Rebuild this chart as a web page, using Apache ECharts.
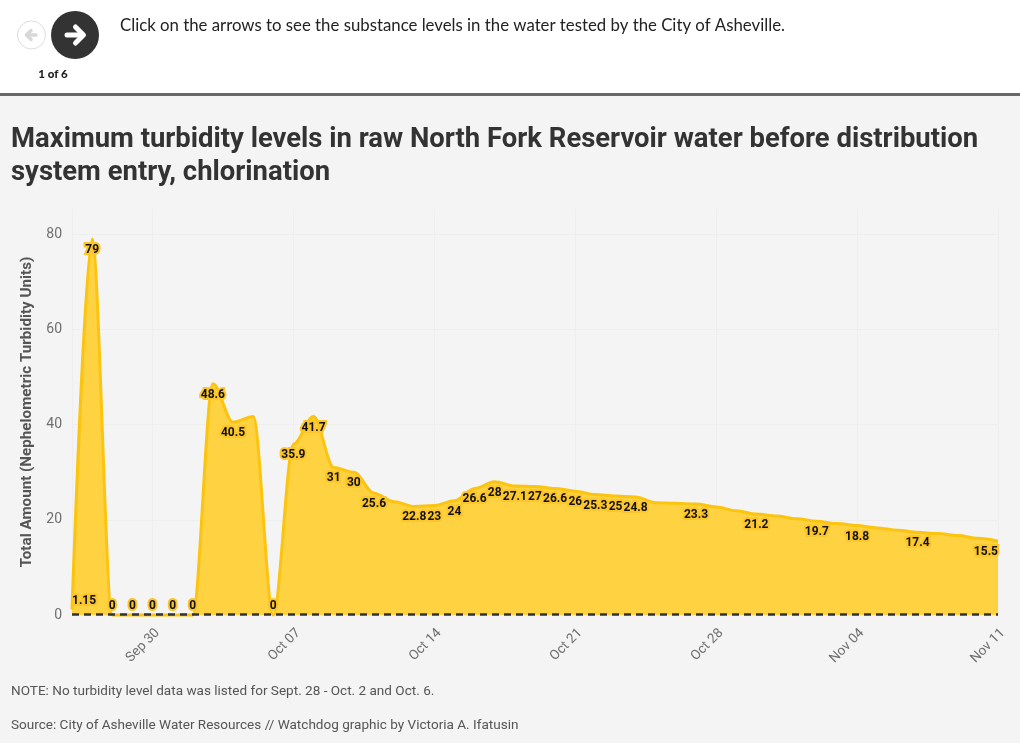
<!DOCTYPE html>
<html>
<head>
<meta charset="utf-8">
<style>html,body{margin:0;padding:0;background:#f4f4f4}#c{width:1020px;height:743px}</style>
<script src="https://cdn.jsdelivr.net/npm/echarts@6/dist/echarts.min.js"></script>
</head>
<body>
<div id="c"></div>
<script>
const dates = ['2024-09-26','2024-09-27','2024-09-28','2024-09-29','2024-09-30','2024-10-01','2024-10-02','2024-10-03','2024-10-04','2024-10-05','2024-10-06','2024-10-07','2024-10-08','2024-10-09','2024-10-10','2024-10-11','2024-10-12','2024-10-13','2024-10-14','2024-10-15','2024-10-16','2024-10-17','2024-10-18','2024-10-19','2024-10-20','2024-10-21','2024-10-22','2024-10-23','2024-10-24','2024-10-25','2024-10-26','2024-10-27','2024-10-28','2024-10-29','2024-10-30','2024-10-31','2024-11-01','2024-11-02','2024-11-03','2024-11-04','2024-11-05','2024-11-06','2024-11-07','2024-11-08','2024-11-09','2024-11-10','2024-11-11'];
const turbidity = [1.15,79,0,0,0,0,0,48.6,40.5,41.7,0,35.9,41.7,31,30,25.6,23.8,22.8,23,24,26.6,28,27.1,27,26.6,26,25.3,25,24.8,23.6,23.5,23.3,22.7,21.9,21.2,20.8,20.2,19.7,19.2,18.8,18.3,17.8,17.4,17.1,16.7,16.1,15.5];
const unlabeledDates = ['2024-10-05','2024-10-12','2024-10-25','2024-10-26','2024-10-28','2024-10-29','2024-10-31','2024-11-01','2024-11-03','2024-11-05','2024-11-06','2024-11-08','2024-11-09','2024-11-10'];
const xTickDates = ['2024-09-26','2024-09-30','2024-10-07','2024-10-14','2024-10-21','2024-10-28','2024-11-04','2024-11-11'];
const xTickLabels = {'2024-09-30':'Sep 30','2024-10-07':'Oct 07','2024-10-14':'Oct 14','2024-10-21':'Oct 21','2024-10-28':'Oct 28','2024-11-04':'Nov 04','2024-11-11':'Nov 11'};
const yTicks = [0,20,40,60,80];
const headline = ['Maximum turbidity levels in raw North Fork Reservoir water before distribution','system entry, chlorination'];
const prompt = 'Click on the arrows to see the substance levels in the water tested by the City of Asheville.';
const pager = '1 of 6';
const yAxisTitle = 'Total Amount (Nephelometric Turbidity Units)';
const note = 'NOTE: No turbidity level data was listed for Sept. 28 - Oct. 2 and Oct. 6.';
const source = 'Source: City of Asheville Water Resources // Watchdog graphic by Victoria A. Ifatusin';

const ms = s => Date.parse(s + 'T00:00:00Z');
const iso = t => new Date(t).toISOString().slice(0,10);
const HEAD = 'Roboto', BODY = 'Lato', LABEL = 'Roboto';
const GRID_L = 72, GRID_R = 998;
const lastIdx = dates.length - 1;

const chart = echarts.init(document.getElementById('c'), null, {renderer:'canvas'});
chart.setOption({
  animation: false,
  backgroundColor: '#f4f4f4',
  grid: {left: GRID_L, right: 1020 - GRID_R, top: 209, bottom: 743 - 615, containLabel: false},
  xAxis: {
    type: 'value',
    min: ms(dates[0]), max: ms(dates[lastIdx]),
    axisLine: {show:false},
    axisTick: {show:false, customValues: xTickDates.map(ms)},
    splitLine: {show:true, lineStyle:{color:'#eeeeee', width:1}},
    axisLabel: {
      customValues: xTickDates.filter(d => xTickLabels[d]).map(ms),
      rotate: 45, verticalAlign:'top', color:'#6f6f6f', fontFamily: HEAD, fontSize: 13.5, margin: 11,
      hideOverlap:false, showMinLabel:true, showMaxLabel:true,
      formatter: v => xTickLabels[iso(v)] || ''
    }
  },
  yAxis: {
    type: 'value', min: 0, max: 85.3,
    name: yAxisTitle, nameLocation:'middle', nameGap: 37, nameRotate: 90,
    nameTextStyle: {fontFamily: HEAD, fontWeight:'bold', fontSize: 15.2, color:'#555'},
    axisLine:{show:false},
    axisTick:{show:false, customValues: yTicks},
    splitLine:{show:true, lineStyle:{color:'#eeeeee', width:1}},
    axisLabel:{customValues: yTicks, color:'#6f6f6f', fontFamily: HEAD, fontSize: 14, margin: 10, padding:[4,0,0,0]}
  },
  series: [{
    type:'line', smooth:0.33, smoothMonotone:'x', symbol:'none', clip:false,
    lineStyle:{color:'#fcc40f', width:3},
    areaStyle:{color:'#fece30', opacity:0.92},
    z:2,
    data: dates.map((d,i) => {
      const show = !unlabeledDates.includes(d);
      const low = turbidity[i] < 5;
      const label = {show, position: low ? 'top':'bottom', distance: low ? 3 : 5};
      if (i === 0) label.align = 'left';
      if (i === lastIdx) label.align = 'right';
      return {value:[ms(d), turbidity[i]], symbol: show ? 'circle':'none', symbolSize:0, label};
    }),
    showAllSymbol:true,
    label:{
      show:true, fontFamily:LABEL, fontWeight:'bold', fontSize:12, color:'#111',
      textBorderColor:'#fcc62a', textBorderWidth:4,
      formatter: p => String(p.value[1])
    },
    markLine:{
      silent:true, symbol:'none', label:{show:false}, animation:false,
      lineStyle:{color:'#333', type:[7,5], width:2.5},
      data:[{yAxis:0.2}]
    }
  }],
  graphic: [
    {type:'rect', z:0, silent:true, shape:{x:0,y:0,width:1020,height:94}, style:{fill:'#fff'}},
    {type:'rect', z:0, silent:true, shape:{x:0,y:93,width:1020,height:3}, style:{fill:'#686868'}},
    {type:'circle', shape:{cx:31.5,cy:35,r:14}, style:{fill:'#fff', stroke:'#ddd', lineWidth:1}},
    {type:'polyline', shape:{points:[[27,35],[36,35]]}, style:{stroke:'#d8d8d8', lineWidth:3.5, fill:null, lineCap:'round'}},
    {type:'polyline', shape:{points:[[31,30.5],[26.5,35],[31,39.5]]}, style:{stroke:'#d8d8d8', lineWidth:3.5, fill:null, lineCap:'round', lineJoin:'round'}},
    {type:'circle', shape:{cx:75,cy:35,r:24}, style:{fill:'#333'}},
    {type:'polyline', shape:{points:[[67,35],[82,35]]}, style:{stroke:'#fff', lineWidth:5, fill:null, lineCap:'round'}},
    {type:'polyline', shape:{points:[[75.5,27],[83.5,35],[75.5,43]]}, style:{stroke:'#fff', lineWidth:5, fill:null, lineCap:'round', lineJoin:'round'}},
    {type:'text', x:53, y:74, style:{text:pager, fontFamily:BODY, fontWeight:900, fontSize:11.5, fill:'#222', align:'center', verticalAlign:'middle'}},
    {type:'text', x:120, y:26, style:{text:prompt, fontFamily:BODY, fontSize:16.8, fill:'#222', verticalAlign:'middle'}},
    {type:'text', x:11, y:140, style:{text:headline[0], fontFamily:HEAD, fontWeight:'bold', fontSize:27.45, fill:'#333', verticalAlign:'middle'}},
    {type:'text', x:11, y:173, style:{text:headline[1], fontFamily:HEAD, fontWeight:'bold', fontSize:27.45, fill:'#333', verticalAlign:'middle'}},
    {type:'text', x:11, y:692, style:{text:note, fontFamily:HEAD, fontSize:13.55, fill:'#555', verticalAlign:'middle'}},
    {type:'text', x:11, y:726, style:{text:source, fontFamily:HEAD, fontSize:13.55, fill:'#555', verticalAlign:'middle'}}
  ]
});
</script>
</body>
</html>
